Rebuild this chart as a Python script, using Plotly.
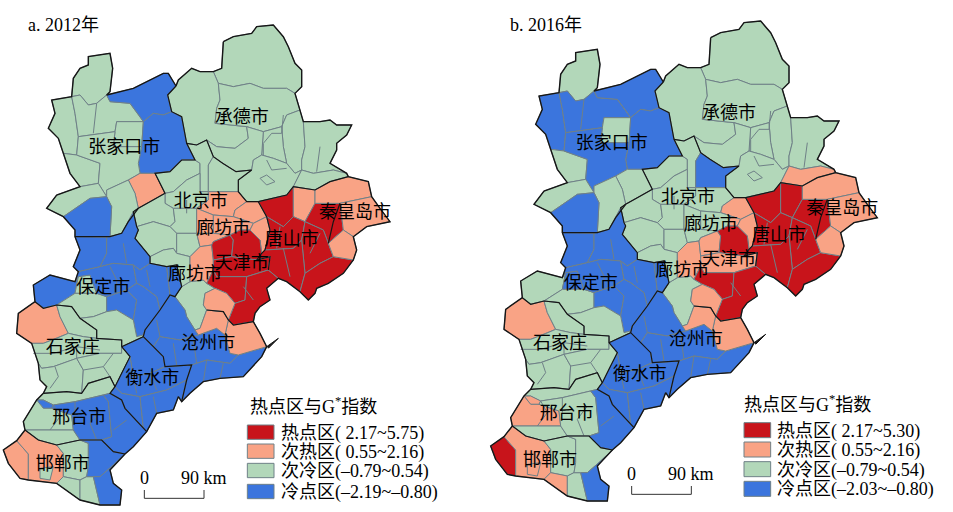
import plotly.graph_objects as go

# map units: 3 per pixel of panel a
Z1 = [(265,170),(330,160),(338,205),(330,275),(320,285),(290,310),(265,315),(240,285),(215,290),(220,235),(240,205),(265,195)]
Z2 = [(155,300),(215,290),(225,340),(235,410),(230,465),(190,460),(175,415),(145,385),(165,340)]
Z3 = [(215,290),(240,285),(265,315),(290,310),(320,285),(330,305),(390,310),(420,350),(430,365),(350,365),(345,395),(235,410),(225,340)]
Z4 = [(320,285),(400,265),(490,220),(505,220),(528,258),(503,285),(515,335),(490,345),(460,340),(430,365),(420,350),(390,310),(330,305)]
Z5 = [(350,365),(430,365),(425,440),(340,440),(345,395)]
Z6 = [(430,365),(460,340),(490,345),(515,335),(545,350),(560,430),(585,480),(545,480),(510,515),(465,520),(420,520),(415,490),(425,440)]
Z7A = [(190,460),(230,465),(300,490),(295,550),(240,560),(210,520)]
Z7B = [(235,410),(345,395),(340,440),(425,440),(415,490),(420,520),(385,540),(320,570),(320,590),(295,550),(300,490),(230,465)]
Z8 = [(385,540),(420,520),(465,520),(495,580),(450,605),(415,625),(405,580)]
Z9 = [(320,570),(385,540),(405,580),(415,625),(385,665),(365,700),(330,710),(335,620),(320,590)]
Z10 = [(170,585),(240,560),(295,550),(320,590),(270,595),(190,650),(140,625)]
Z11 = [(190,650),(270,595),(320,590),(335,620),(330,710),(225,710),(225,690)]

C1 = [(640,215),(665,205),(670,125),(700,110),(755,100),(770,80),(820,75),(850,110),(865,140),(885,190),(905,210),(905,260),(885,280),(860,265),(790,265),(750,250),(700,260),(680,255),(655,250)]
C2 = [(503,285),(528,258),(535,240),(575,205),(600,215),(640,215),(655,250),(660,300),(650,325),(645,370),(740,380),(745,415),(705,445),(650,440),(620,420),(590,435),(560,430),(545,350),(515,335)]
C3 = [(655,250),(680,255),(700,260),(750,250),(790,265),(860,265),(885,280),(900,330),(860,345),(845,380),(790,395),(740,380),(645,370),(650,325),(660,300)]
C4 = [(860,345),(900,330),(910,365),(915,440),(905,480),(905,510),(885,520),(860,490),(850,440),(845,380)]
C5 = [(910,365),(960,365),(990,360),(1010,375),(1055,375),(1040,405),(1010,430),(1010,450),(990,490),(1040,520),(1000,510),(940,520),(905,510),(905,480),(915,440)]
C6 = [(790,395),(845,380),(850,440),(860,490),(820,475),(785,465)]
C7 = [(620,420),(650,440),(705,445),(745,415),(740,380),(790,395),(785,465),(760,480),(755,510),(708,515),(668,490),(640,470)]
C8 = [(755,510),(760,480),(785,465),(820,475),(860,490),(885,520),(905,510),(880,560),(860,585),(775,605),(740,605),(715,575),(715,540)]
C9 = [(905,510),(940,520),(1000,510),(1040,520),(1045,530),(990,545),(945,570),(880,560)]
C10 = [(780,535),(800,525),(825,545),(800,555)]

B1 = [(465,520),(510,515),(545,480),(585,480),(600,490),(600,520),(560,540),(520,575),(495,580)]
B2 = [(560,430),(590,435),(620,420),(640,470),(625,495),(625,575),(600,575),(600,490),(585,480)]
B3 = [(625,495),(640,470),(668,490),(708,515),(755,510),(715,540),(715,575),(625,575)]
B4 = [(495,580),(520,575),(560,540),(600,520),(600,575),(625,575),(625,600),(590,625),(520,625),(495,610)]
B5 = [(400,635),(415,625),(450,605),(495,580),(495,610),(520,625),(525,665),(510,680),(460,665),(410,680)]
B6 = [(625,575),(715,575),(740,605),(705,630),(700,650),(640,645),(590,625),(625,600)]
B6B = [(705,630),(740,605),(775,605),(800,650),(760,670),(730,660),(700,650)]
B7 = [(520,625),(590,625),(590,700),(530,700),(510,680),(525,665)]
B7B = [(590,625),(640,645),(640,700),(590,700)]
B8 = [(405,715),(415,690),(410,680),(460,665),(510,680),(530,700),(530,760),(520,745),(490,750),(450,770)]
B9 = [(530,700),(590,700),(600,740),(570,770),(530,760)]
B10 = [(730,660),(760,670),(750,690),(720,690)]
B11 = [(760,670),(800,650),(810,690),(795,750),(785,760),(780,720),(750,690)]
A1 = [(640,645),(700,650),(730,660),(720,690),(690,705),(640,700)]
A2 = [(590,700),(640,700),(690,705),(640,725),(635,735),(600,740)]

L1 = [(545,860),(570,845),(610,840),(620,850),(645,865),(615,880),(610,915),(620,930),(600,985),(585,990),(560,950),(555,930),(525,890)]
L2 = [(450,770),(490,750),(520,745),(530,760),(570,770),(570,845),(545,860),(530,795),(500,800),(450,790)]
L3 = [(570,770),(600,740),(635,735),(640,780),(640,810),(620,850),(610,840),(570,845)]

TJ1 = [(635,735),(640,725),(690,705),(700,720),(695,770),(640,780)]
TJ2 = [(690,705),(720,690),(750,690),(780,720),(785,760),(770,780),(695,770),(700,720)]
TJ3 = [(640,780),(695,770),(770,780),(810,770),(805,810),(740,830),(650,830),(640,810)]
TJ4 = [(640,810),(650,830),(740,830),(735,900),(705,910),(680,880),(645,865),(620,850)]
TJ5 = [(740,830),(805,810),(835,835),(800,865),(810,900),(780,920),(765,940),(760,965),(700,975),(685,960),(705,910),(735,900)]

T1 = [(775,605),(860,585),(880,560),(880,650),(850,680),(800,650)]
T2 = [(880,560),(945,570),(945,610),(915,665),(880,650)]
T3 = [(945,610),(1020,610),(1030,690),(985,730),(970,690),(915,665)]
T4 = [(800,650),(850,680),(880,650),(915,665),(905,720),(880,745),(795,750),(810,690)]
T5 = [(915,665),(970,690),(985,730),(1000,770),(960,790),(915,820),(905,720)]
T6 = [(795,750),(880,745),(905,720),(915,820),(900,875),(860,845),(835,835),(805,810),(810,770),(770,780),(785,760)]
T7 = [(1000,770),(1060,780),(1030,820),(985,850),(950,865),(945,880),(925,900),(900,875),(915,820),(960,790)]

Q1 = [(945,570),(990,545),(1045,530),(1105,545),(1115,590),(1020,610),(945,610)]
Q2 = [(1020,610),(1115,590),(1140,625),(1170,665),(1100,680),(1060,710),(1030,690)]
Q3 = [(985,730),(1030,690),(1060,710),(1070,750),(1060,780),(1000,770)]

P1 = [(225,710),(320,712),(320,760),(300,800),(235,815),(220,800),(240,750)]
P2 = [(320,712),(330,710),(365,700),(385,665),(400,635),(410,680),(415,690),(405,715),(450,770),(450,790),(420,810),(400,795),(340,790),(300,800),(320,760)]
P3 = [(105,905),(100,855),(150,825),(225,845),(235,830),(225,880),(170,915),(130,925)]
P4A = [(235,830),(270,825),(290,880),(225,880)]
P4B = [(225,880),(290,880),(320,890),(320,935),(280,950),(240,955),(215,920),(170,915)]
P5 = [(300,800),(340,790),(400,795),(410,850),(380,870),(350,880),(320,890),(290,880),(270,825),(235,830),(225,845),(235,815)]
P6 = [(400,795),(420,810),(450,790),(500,800),(510,885),(480,930),(470,890),(430,860),(410,850)]
P7 = [(320,890),(350,880),(380,870),(410,900),(400,960),(350,930),(320,935)]
P8 = [(410,850),(430,860),(470,890),(480,930),(435,990),(430,1005),(410,1010),(400,960),(410,900),(380,870)]
P9 = [(500,800),(530,795),(545,860),(525,890),(510,885)]
P10 = [(280,950),(320,935),(350,930),(400,960),(410,1010),(430,1005),(430,1010),(365,1040),(365,1020),(290,1015),(290,990),(240,955)]

S1 = [(105,905),(130,925),(170,915),(180,950),(205,1000),(170,1015),(130,1030),(95,1030),(50,1000),(55,940)]
S2 = [(170,915),(215,920),(240,955),(290,990),(290,1015),(250,1010),(205,1000),(180,950)]
S3 = [(95,1030),(130,1030),(170,1015),(205,1000),(250,1010),(290,1015),(365,1020),(365,1060),(300,1060),(230,1075),(160,1100),(125,1105),(115,1090)]
S5 = [(125,1105),(160,1100),(230,1075),(250,1110),(245,1180),(200,1175),(130,1180),(140,1160),(120,1140),(115,1090)]
S6 = [(230,1075),(300,1060),(365,1060),(365,1040),(390,1070),(365,1120),(345,1160),(330,1130),(265,1150),(245,1180),(250,1110)]

X1 = [(130,1180),(200,1175),(245,1180),(265,1150),(330,1130),(345,1160),(330,1180),(310,1185),(225,1205),(160,1215),(130,1200),(110,1200)]
X2 = [(110,1200),(130,1200),(160,1215),(155,1225),(130,1225)]
X3 = [(70,1265),(110,1200),(130,1225),(155,1225),(215,1245),(220,1290),(150,1290),(75,1290)]
X4 = [(75,1290),(150,1290),(220,1290),(240,1320),(170,1335),(115,1320)]
X5 = [(155,1225),(160,1215),(225,1205),(310,1185),(325,1205),(335,1310),(305,1320),(240,1320),(220,1290),(215,1245)]
X6 = [(310,1185),(330,1180),(365,1200),(375,1225),(430,1285),(440,1295),(400,1340),(375,1362),(340,1355),(305,1320),(335,1310),(325,1205)]

H1 = [(10,1350),(50,1322),(85,1362),(85,1440),(60,1435),(25,1390)]
H2 = [(50,1322),(75,1290),(115,1320),(170,1335),(190,1360),(190,1430),(170,1450),(85,1440),(85,1362)]
H3 = [(120,1405),(160,1400),(150,1440),(120,1435)]
H4 = [(170,1335),(240,1320),(265,1330),(265,1400),(260,1430),(240,1440),(190,1430),(190,1360)]
H6 = [(170,1450),(190,1430),(240,1440),(240,1500)]
H7 = [(240,1440),(260,1430),(280,1430),(300,1515),(240,1500)]
H8A = [(240,1320),(305,1320),(340,1355),(375,1362),(340,1395),(300,1430),(280,1430),(260,1430),(265,1400),(265,1330)]
H8B = [(280,1430),(300,1430),(340,1395),(375,1362),(330,1410),(340,1450),(365,1470),(360,1515),(300,1515)]

HS1 = [(365,1040),(430,1010),(460,1040),(490,1070),(495,1100),(450,1120),(400,1130),(390,1070)]
HS2 = [(390,1070),(400,1130),(450,1120),(495,1100),(575,1095),(560,1140),(500,1170),(420,1190),(365,1180),(345,1160),(365,1120)]
HS3 = [(330,1180),(345,1160),(365,1180),(420,1190),(430,1285),(375,1225),(365,1200)]
HS4 = [(420,1190),(500,1170),(560,1140),(545,1205),(535,1190),(520,1230),(470,1240),(440,1295),(430,1285)]

CZ1 = [(435,990),(480,930),(510,885),(525,890),(555,930),(560,950),(585,990),(595,1005),(540,1020),(480,1010),(460,1040),(430,1010),(430,1005)]
CZ2 = [(460,1040),(480,1010),(540,1020),(595,1005),(650,985),(675,1005),(690,1060),(715,1065),(690,1090),(620,1080),(575,1095),(495,1100),(490,1070)]
CZ3 = [(575,1095),(620,1080),(690,1090),(715,1065),(800,1040),(785,1070),(730,1130),(660,1135),(610,1145),(570,1180),(545,1205),(560,1140)]
CZ4 = [(685,960),(700,975),(760,965),(780,1000),(800,1040),(715,1065),(690,1060),(675,1005)]
CZ5 = [(620,930),(670,935),(685,960),(675,1005),(650,985),(595,1005),(585,990),(600,985)]
CZ6 = [(615,880),(645,865),(680,880),(705,910),(685,960),(670,935),(620,930),(610,915)]
SPIT = [(800,1040),(835,1015),(805,1045)]

COUNTIES = [Z1,Z2,Z3,Z4,Z5,Z6,Z7A,Z7B,Z8,Z9,Z10,Z11,
            C1,C2,C3,C4,C5,C6,C7,C8,C9,C10,
            B1,B2,B3,B4,B5,B6,B6B,B7,B7B,B8,B9,B10,B11,A1,A2,
            L1,L2,L3,
            TJ1,TJ2,TJ3,TJ4,TJ5,
            T1,T2,T3,T4,T5,T6,T7,
            Q1,Q2,Q3,
            P1,P2,P3,P4A,P4B,P5,P6,P7,P8,P9,P10,
            S1,S2,S3,S5,S6,
            X1,X2,X3,X4,X5,X6,
            H1,H2,H3,H4,H6,H7,H8A,H8B,
            HS1,HS2,HS3,HS4,
            CZ1,CZ2,CZ3,CZ4,CZ5,CZ6]

# 0 cold, 1 sub-cold, 2 sub-hot, 3 hot (same order as COUNTIES)
CLASS_2012 = [1,1,1,0,1,0,1,1,2,1,1,0,
              1,1,1,1,1,1,1,1,1,1,
              1,1,1,1,1,2,2,1,2,1,1,2,2,2,2,
              1,1,2,
              3,3,3,3,3,
              3,2,3,3,3,3,3,
              2,2,2,
              0,0,0,1,1,0,0,0,0,0,1,
              2,1,1,1,1,
              1,0,1,1,0,0,
              2,2,1,1,1,1,0,0,
              0,0,0,0,
              0,0,0,2,2,2]
CLASS_2016 = [1,0,0,0,1,0,1,0,1,1,1,0,
              1,1,1,1,1,1,1,1,2,1,
              1,1,0,1,1,1,2,1,1,1,1,2,2,1,1,
              1,1,2,
              2,3,2,3,3,
              3,3,3,3,3,3,3,
              2,2,2,
              0,0,1,0,1,0,0,0,0,0,1,
              2,1,1,1,1,
              1,2,2,1,1,0,
              3,2,2,1,2,1,1,0,
              0,0,0,0,
              0,0,0,2,2,2]

# county borders inside the polygons above
COUNTY_LINES = [
    [(850,345),(845,400),(815,400),(790,430),(790,465)],
    [(800,480),(815,510),(860,505)],
    [(960,440),(950,515)],
    [(290,310),(280,400)],
    [(165,1100),(175,1130),(150,1165)],
    [(250,1110),(310,1100),(340,1060)],
    [(310,1100),(330,1130)],
    [(100,1060),(160,1060),(230,1040),(300,1050)],
    [(230,1040),(230,1075)],
    [(160,1215),(180,1250),(150,1290)],
    [(225,1205),(225,1250)],
    [(400,1130),(410,1180)],
    [(450,1120),(470,1170)],
    [(470,1240),(460,1190)],
    [(620,1080),(610,1145)],
    [(660,1135),(670,1090)],
    [(520,1030),(530,1095)],
    [(580,1020),(590,1090)],
    [(480,1010),(470,960)],
    [(330,800),(350,840),(350,880)],
    [(440,810),(450,860)],
    [(370,730),(380,790)],
    [(840,680),(830,745)],
    [(850,745),(870,830)],
    [(960,700),(930,760)],
    [(560,600),(560,640)],
    [(300,1230),(270,1270),(290,1320)],
    [(380,1260),(340,1290)],
    [(730,860),(760,900)],
]

OUTLINE = [(670,125),(700,110),(755,100),(770,80),(820,75),(850,110),(865,140),(885,190),(905,210),(905,260),(885,280),(900,330),(910,365),(960,365),(990,360),(1010,375),(1055,375),(1040,405),(1010,430),(1010,450),(990,490),(1040,520),(1045,530),(1105,545),(1115,590),(1140,625),(1170,665),(1100,680),(1060,710),(1070,750),(1060,780),(1030,820),(985,850),(950,865),(945,880),(925,900),(900,875),(860,845),(835,835),(800,865),(810,900),(780,920),(765,940),(760,965),(780,1000),(800,1040),(785,1070),(730,1130),(660,1135),(610,1145),(570,1180),(545,1205),(535,1190),(520,1230),(470,1240),(440,1295),(400,1340),(375,1362),(330,1410),(340,1450),(365,1470),(360,1515),(300,1515),(240,1500),(170,1450),(85,1440),(60,1435),(25,1390),(10,1350),(50,1322),(75,1290),(70,1265),(110,1200),(130,1180),(140,1160),(120,1140),(115,1090),(95,1030),(50,1000),(55,940),(105,905),(100,855),(150,825),(225,845),(235,815),(220,800),(240,750),(225,710),(225,690),(190,650),(140,625),(170,585),(240,560),(210,520),(190,460),(175,415),(145,385),(165,340),(155,300),(215,290),(220,235),(240,205),(265,195),(265,170),(330,160),(338,205),(330,275),(320,285),(400,265),(490,220),(505,220),(528,258),(535,240),(575,205),(600,215),(640,215),(665,205),(670,125)]

CITY_LINES = [
    [(528,258),(503,285),(515,335),(545,350),(560,430),(585,480),(545,480),(510,515),(465,520),(495,580),(450,605),(415,625),(385,665),(365,700),(330,710),(225,710)],
    [(560,430),(590,435),(620,420),(640,470),(668,490),(708,515),(755,510),(715,540),(715,575),(740,605),(775,605),(860,585),(880,560),(945,570),(990,545),(1045,530)],
    [(415,625),(400,635),(410,680),(415,690),(405,715),(450,770),(450,790),(500,800),(530,795),(545,860),(525,890),(510,885),(480,930),(435,990),(430,1010)],
    [(775,605),(800,650),(810,690),(795,750),(785,760),(770,780),(810,770),(805,810)],
    [(620,930),(670,935),(685,960),(700,975),(760,965)],
    [(365,1040),(430,1010),(460,1040),(490,1070),(495,1100),(575,1095),(560,1140),(545,1205)],
    [(365,1040),(390,1070),(365,1120),(345,1160),(330,1180),(365,1200),(375,1225),(430,1285),(440,1295)],
    [(105,905),(130,925),(170,915),(215,920),(240,955),(290,990),(290,1015),(365,1020),(365,1040)],
    [(130,1180),(200,1175),(245,1180),(265,1150),(330,1130),(345,1160)],
    [(75,1290),(115,1320),(170,1335),(240,1320),(305,1320),(340,1355),(375,1362)],
    [(985,730),(1000,665),(1020,610)],
]

CITY_NAMES = ["张家口市","承德市","北京市","秦皇岛市","廊坊市","唐山市","天津市","廊坊市","保定市","石家庄","沧州市","衡水市","邢台市","邯郸市"]
CITY_X = [373,725,602,1065,670,875,725,585,310,218,625,457,238,188]
CITY_Y = [444,356,607,641,689,722,794,826,864,1044,1034,1139,1254,1396]

CLASS_COLORS = ["#3B75DD","#B2D7B9","#F9A385","#C8141B"]
LEGEND_TITLE = "热点区与G<sup>*</sup>指数"
LEGEND_2012 = ["热点区( 2.17~5.75)","次热区( 0.55~2.16)","次冷区(–0.79~0.54)","冷点区(–2.19~–0.80)"]
LEGEND_2016 = ["热点区( 2.17~5.30)","次热区( 0.55~2.16)","次冷区(–0.79~0.54)","冷点区(–2.03~–0.80)"]
LEGEND_CLASSES = [3,2,1,0]

SERIF = "Liberation Serif, Noto Sans CJK SC"
SANS = "Noto Sans CJK SC"
GREY = "#6F8087"
BLACK = "#161616"

fig = go.Figure()


def draw_panel(classes, title, legend_labels, xa, ya, swatch_x, swatch_y, swatch_h, text_x, head_x, head_y):
    for pts, c in zip(COUNTIES, classes):
        fig.add_trace(go.Scatter(x=[p[0] for p in pts] + [pts[0][0]], y=[p[1] for p in pts] + [pts[0][1]],
                                 mode="lines", fill="toself", fillcolor=CLASS_COLORS[c],
                                 line=dict(color=GREY, width=1), xaxis=xa, yaxis=ya,
                                 showlegend=False, hoverinfo="skip"))
    for line in COUNTY_LINES:
        fig.add_trace(go.Scatter(x=[p[0] for p in line], y=[p[1] for p in line], mode="lines",
                                 line=dict(color=GREY, width=1), xaxis=xa, yaxis=ya,
                                 showlegend=False, hoverinfo="skip"))
    fig.add_trace(go.Scatter(x=[p[0] for p in SPIT], y=[p[1] for p in SPIT], mode="lines", fill="toself",
                             fillcolor=BLACK, line=dict(color=BLACK, width=1), xaxis=xa, yaxis=ya,
                             showlegend=False, hoverinfo="skip"))
    for line in CITY_LINES:
        fig.add_trace(go.Scatter(x=[p[0] for p in line], y=[p[1] for p in line], mode="lines",
                                 line=dict(color=BLACK, width=1.2), xaxis=xa, yaxis=ya,
                                 showlegend=False, hoverinfo="skip"))
    fig.add_trace(go.Scatter(x=[p[0] for p in OUTLINE], y=[p[1] for p in OUTLINE], mode="lines",
                             line=dict(color=BLACK, width=1.4), xaxis=xa, yaxis=ya,
                             showlegend=False, hoverinfo="skip"))
    fig.add_trace(go.Scatter(x=CITY_X, y=CITY_Y, mode="text", text=CITY_NAMES, textposition="middle center",
                             textfont=dict(family=SANS, size=18, color="black"), xaxis=xa, yaxis=ya,
                             showlegend=False, hoverinfo="skip"))

    def note(x, y, text, size, anchor="left"):
        fig.add_annotation(x=x, y=y, xref=xa, yref=ya, text=text, showarrow=False, xanchor=anchor, yanchor="middle",
                           font=dict(family=SERIF, size=size, color="black"))

    note(63 if xa == "x2" else 78, 75 if xa == "x" else 87, title, 18)
    note(head_x, head_y, LEGEND_TITLE, 18)
    for y0, c, label in zip(swatch_y, LEGEND_CLASSES, legend_labels):
        fig.add_shape(type="rect", xref=xa, yref=ya, x0=swatch_x, x1=swatch_x + 80, y0=y0, y1=y0 + swatch_h,
                      fillcolor=CLASS_COLORS[c], line=dict(color=GREY, width=1))
        note(text_x, y0 + swatch_h / 2 + 3, label, 18)
    # scale bar
    fig.add_trace(go.Scatter(x=[433,433,612,612], y=[1470,1495,1495,1470], mode="lines",
                             line=dict(color="#333333", width=1), xaxis=xa, yaxis=ya,
                             showlegend=False, hoverinfo="skip"))
    note(433, 1433, "0", 18, "center")
    note(612, 1433, "90 km", 18, "center")


draw_panel(CLASS_2012, "a. 2012年", LEGEND_2012, "x", "y", 742, [1275,1332,1390,1453], 43, 836, 744, 1216)
draw_panel(CLASS_2016, "b. 2016年", LEGEND_2016, "x2", "y2", 770, [1280,1338,1397,1456], 45, 862, 764, 1222)

fig.update_layout(
    width=953, height=512, margin=dict(l=0, r=0, t=0, b=0),
    plot_bgcolor="white", paper_bgcolor="white",
    xaxis=dict(domain=[0, 0.5], range=[0, 1429.5], visible=False),
    yaxis=dict(domain=[0, 1], range=[1536, 0], visible=False),
    xaxis2=dict(domain=[0.5, 1], range=[-32.5, 1397], visible=False),
    yaxis2=dict(domain=[0, 1], range=[1548, 12], visible=False, anchor="x2"),
)

fig.write_html("out.html", config={"displayModeBar": False}, post_script="document.body.style.margin='0';")
